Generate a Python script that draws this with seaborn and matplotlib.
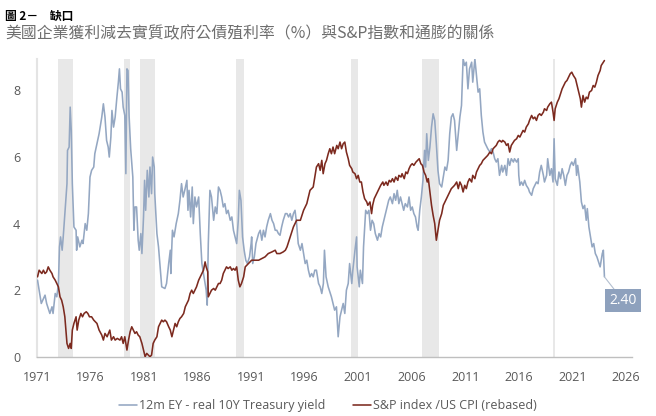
import matplotlib
matplotlib.use("Agg")
import matplotlib.pyplot as plt
import seaborn as sns
import pandas as pd

# ---------------- data ----------------
ey_years = [1971.05, 1971.4, 1971.75, 1971.9, 1972.2, 1972.4, 1972.5, 1972.7, 1972.85, 1973.0, 1973.1, 1973.2,
            1973.35, 1973.45, 1973.6, 1973.8, 1973.85, 1974.0, 1974.1, 1974.2, 1974.3, 1974.45, 1974.65, 1974.7,
            1974.8, 1975.0, 1975.2, 1975.3, 1975.5, 1975.65, 1975.8, 1975.95, 1976.1, 1976.3, 1976.4, 1976.6,
            1976.8, 1977.05, 1977.2, 1977.35, 1977.5, 1977.65, 1977.75, 1977.9, 1978.0, 1978.15, 1978.3, 1978.45,
            1978.6, 1978.7, 1978.8, 1978.95, 1979.05, 1979.2, 1979.3, 1979.4, 1979.5, 1979.6, 1979.75, 1979.95,
            1980.05, 1980.15, 1980.3, 1980.45, 1980.55, 1980.7, 1980.8, 1980.95, 1981.05, 1981.15, 1981.3, 1981.45,
            1981.55, 1981.7, 1981.8, 1981.95, 1982.0, 1982.2, 1982.35, 1982.5, 1982.65, 1982.95, 1983.1, 1983.3,
            1983.45, 1983.5, 1983.65, 1983.8, 1984.0, 1984.2, 1984.35, 1984.5, 1984.65, 1984.8, 1985.0, 1985.1,
            1985.2, 1985.35, 1985.5, 1985.6, 1985.75, 1985.9, 1986.1, 1986.25, 1986.4, 1986.6, 1986.8, 1986.9,
            1987.0, 1987.15, 1987.3, 1987.5, 1987.65, 1987.8, 1987.95, 1988.1, 1988.25, 1988.4, 1988.55, 1988.7,
            1988.85, 1989.05, 1989.2, 1989.35, 1989.5, 1989.65, 1989.8, 1989.9, 1990.05, 1990.2, 1990.35, 1990.5,
            1990.65, 1990.85, 1991.0, 1991.05, 1991.15, 1991.3, 1991.45, 1991.7, 1991.85, 1992.0, 1992.15, 1992.3,
            1992.45, 1992.6, 1992.8, 1992.95, 1993.1, 1993.25, 1993.4, 1993.55, 1993.7, 1993.85, 1994.0, 1994.2,
            1994.35, 1994.5, 1994.65, 1994.8, 1994.95, 1995.1, 1995.25, 1995.4, 1995.6, 1995.75, 1995.9, 1996.05,
            1996.2, 1996.35, 1996.5, 1996.65, 1996.8, 1996.95, 1997.1, 1997.3, 1997.45, 1997.6, 1997.75, 1997.85,
            1998.0, 1998.2, 1998.5, 1998.8, 1998.97, 1999.13, 1999.3, 1999.45, 1999.6, 1999.75, 1999.9, 2000.07,
            2000.2, 2000.4, 2000.5, 2000.7, 2000.85, 2000.9, 2001.1, 2001.2, 2001.4, 2001.5, 2001.7, 2001.85,
            2002.0, 2002.15, 2002.3, 2002.45, 2002.6, 2002.8, 2002.95, 2003.1, 2003.25, 2003.4, 2003.55, 2003.7,
            2003.85, 2004.0, 2004.2, 2004.35, 2004.5, 2004.65, 2004.8, 2004.95, 2005.1, 2005.25, 2005.4, 2005.6,
            2005.75, 2005.9, 2006.05, 2006.2, 2006.35, 2006.5, 2006.6, 2006.75, 2006.9, 2007.05, 2007.2, 2007.3,
            2007.4, 2007.55, 2007.7, 2007.85, 2008.0, 2008.15, 2008.3, 2008.45, 2008.6, 2008.8, 2008.95, 2009.1,
            2009.25, 2009.4, 2009.55, 2009.7, 2009.85, 2010.0, 2010.2, 2010.35, 2010.5, 2010.65, 2010.8, 2010.95,
            2011.1, 2011.25, 2011.4, 2011.6, 2011.7, 2011.9, 2012.05, 2012.2, 2012.35, 2012.5, 2012.65, 2012.8,
            2012.95, 2013.1, 2013.3, 2013.45, 2013.6, 2013.75, 2013.9, 2014.05, 2014.2, 2014.4, 2014.5, 2014.7,
            2014.85, 2015.0, 2015.15, 2015.3, 2015.5, 2015.6, 2015.8, 2015.95, 2016.0, 2016.1, 2016.25, 2016.4,
            2016.55, 2016.7, 2016.9, 2017.0, 2017.2, 2017.35, 2017.5, 2017.65, 2017.8, 2017.95, 2018.1, 2018.3,
            2018.4, 2018.6, 2018.7, 2018.9, 2019.05, 2019.2, 2019.3, 2019.4, 2019.6, 2019.75, 2019.9, 2020.05,
            2020.2, 2020.35, 2020.5, 2020.65, 2020.8, 2020.95, 2021.1, 2021.3, 2021.4, 2021.5, 2021.7, 2021.85,
            2022.0, 2022.15, 2022.3, 2022.4, 2022.55, 2022.7, 2022.85, 2023.0, 2023.15, 2023.3, 2023.5, 2023.6,
            2023.8, 2023.9, 2024.0]
ey_values = [2.3, 1.6, 1.85, 1.6, 1.3, 1.5, 1.3, 1.9, 1.8, 2.2, 3.3, 3.6,
             3.2, 3.6, 4.3, 5.2, 6.2, 6.3, 7.5, 6.8, 5.2, 3.9, 3.8, 3.2,
             3.6, 3.3, 3.5, 3.4, 4.0, 3.8, 4.3, 5.4, 5.6, 5.7, 6.1, 6.4,
             6.7, 7.2, 7.6, 7.2, 6.5, 6.3, 6.0, 6.6, 7.4, 6.9, 7.2, 7.75,
             8.25, 8.65, 8.05, 7.95, 7.5, 7.25, 5.5, 8.65, 8.6, 7.25, 6.25, 5.4,
             3.8, 4.5, 4.5, 3.5, 3.2, 3.7, 3.1, 4.2, 5.3, 4.4, 5.6, 4.8,
             5.7, 4.9, 6.0, 5.7, 4.9, 3.7, 3.3, 2.7, 2.1, 2.05, 2.2, 2.8,
             3.2, 2.5, 3.8, 3.6, 4.0, 4.3, 4.7, 5.2, 4.8, 5.0, 5.3, 4.4,
             5.0, 4.2, 5.1, 4.0, 4.8, 4.5, 4.8, 3.7, 2.8, 2.4, 2.0, 1.55,
             3.4, 5.0, 4.8, 4.1, 4.5, 4.3, 5.1, 5.0, 4.8, 4.5, 4.6, 4.3,
             4.4, 4.1, 4.2, 3.8, 3.6, 3.4, 4.1, 5.0, 4.7, 3.6, 3.2, 2.9,
             2.8, 3.0, 3.4, 3.6, 2.8, 3.0, 3.4, 3.7, 3.8, 3.5, 3.8, 3.6,
             3.9, 4.1, 4.3, 4.1, 4.0, 3.8, 3.8, 3.7, 3.65, 3.9, 4.1, 4.3,
             4.3, 4.2, 4.3, 4.1, 4.3, 4.4, 4.0, 3.4, 3.2, 3.4, 3.1, 2.8,
             2.9, 2.6, 2.4, 2.5, 2.4, 2.6, 2.6, 2.2, 2.1, 1.9, 2.2, 3.2,
             2.4, 2.1, 1.8, 1.4, 1.5, 0.6, 1.2, 1.4, 1.6, 1.3, 2.0, 2.2,
             2.8, 2.2, 2.6, 3.2, 3.6, 2.7, 2.1, 2.6, 2.2, 3.3, 4.4, 4.3,
             4.4, 3.8, 4.1, 4.0, 3.7, 3.5, 3.7, 3.6, 3.9, 4.1, 4.3, 4.5,
             4.7, 4.8, 4.6, 4.9, 4.7, 5.0, 4.6, 4.8, 4.6, 4.4, 4.6, 4.5,
             4.8, 4.4, 4.5, 4.3, 4.2, 3.9, 3.8, 4.4, 4.8, 5.3, 6.2, 5.7,
             6.7, 5.9, 6.3, 6.9, 7.3, 7.1, 6.4, 5.6, 5.2, 5.1, 5.4, 5.7,
             5.6, 5.9, 6.7, 7.2, 7.3, 7.1, 6.2, 6.7, 7.2, 7.55, 8.95, 8.75,
             8.85, 8.05, 8.65, 8.85, 8.25, 8.95, 8.45, 7.95, 8.05, 7.25, 6.75, 6.45,
             6.35, 6.25, 6.15, 6.25, 6.15, 5.95, 5.85, 5.95, 5.45, 5.75, 5.55, 5.75,
             5.45, 5.95, 5.75, 5.95, 5.85, 5.95, 5.85, 5.95, 5.45, 5.15, 5.25, 5.15,
             5.3, 5.15, 5.05, 4.95, 4.85, 5.05, 5.15, 5.25, 5.2, 5.55, 5.75, 5.45,
             5.25, 5.45, 5.95, 5.45, 5.65, 5.25, 6.55, 5.35, 5.15, 5.55, 5.35, 5.65,
             5.45, 5.15, 5.45, 5.55, 5.75, 5.85, 5.75, 5.95, 5.45, 5.75, 5.25, 4.65,
             4.45, 4.55, 4.1, 4.45, 3.9, 3.6, 3.3, 3.4, 3.1, 3.0, 2.8, 2.7,
             3.1, 3.2, 2.4]

sp_years = [1971.05, 1971.2, 1971.45, 1971.6, 1971.75, 1971.9, 1972.05, 1972.2, 1972.4, 1972.5, 1972.7, 1972.85,
            1973.0, 1973.15, 1973.3, 1973.45, 1973.6, 1973.8, 1973.95, 1974.1, 1974.2, 1974.3, 1974.45, 1974.65,
            1974.75, 1974.9, 1975.1, 1975.25, 1975.4, 1975.6, 1975.75, 1975.9, 1976.1, 1976.3, 1976.6, 1976.8,
            1977.05, 1977.2, 1977.35, 1977.55, 1977.8, 1977.95, 1978.15, 1978.3, 1978.5, 1978.75, 1978.9, 1979.05,
            1979.2, 1979.4, 1979.55, 1979.7, 1979.85, 1980.0, 1980.15, 1980.3, 1980.45, 1980.6, 1980.8, 1980.95,
            1981.1, 1981.25, 1981.55, 1981.7, 1981.85, 1982.0, 1982.2, 1982.35, 1982.5, 1982.65, 1982.8, 1982.95,
            1983.1, 1983.3, 1983.45, 1983.6, 1983.75, 1983.9, 1984.05, 1984.2, 1984.35, 1984.5, 1984.7, 1984.85,
            1985.0, 1985.15, 1985.3, 1985.45, 1985.6, 1985.75, 1985.9, 1986.1, 1986.25, 1986.4, 1986.55, 1986.7,
            1986.8, 1986.95, 1987.0, 1987.15, 1987.3, 1987.5, 1987.65, 1987.8, 1987.95, 1988.1, 1988.25, 1988.4,
            1988.55, 1988.7, 1988.85, 1989.05, 1989.2, 1989.35, 1989.5, 1989.65, 1989.8, 1989.95, 1990.1, 1990.3,
            1990.45, 1990.75, 1991.05, 1991.35, 1991.7, 1992.0, 1992.3, 1992.6, 1992.95, 1993.25, 1993.4, 1993.7,
            1994.0, 1994.2, 1994.35, 1994.65, 1994.95, 1995.25, 1995.6, 1995.9, 1996.2, 1996.35, 1996.5, 1996.8,
            1996.95, 1997.1, 1997.3, 1997.45, 1997.6, 1997.73, 1997.9, 1998.04, 1998.2, 1998.35, 1998.5, 1998.65,
            1998.8, 1999.0, 1999.13, 1999.3, 1999.45, 1999.6, 1999.75, 1999.9, 2000.07, 2000.2, 2000.4, 2000.5,
            2000.7, 2000.85, 2001.0, 2001.15, 2001.3, 2001.45, 2001.6, 2001.8, 2001.9, 2002.1, 2002.25, 2002.35,
            2002.5, 2002.65, 2002.8, 2002.95, 2003.1, 2003.3, 2003.4, 2003.6, 2003.75, 2003.9, 2004.05, 2004.2,
            2004.35, 2004.5, 2004.7, 2004.8, 2005.0, 2005.1, 2005.3, 2005.45, 2005.6, 2005.75, 2005.9, 2006.05,
            2006.2, 2006.4, 2006.55, 2006.7, 2006.85, 2007.0, 2007.15, 2007.3, 2007.45, 2007.55, 2007.7, 2007.85,
            2008.0, 2008.15, 2008.3, 2008.45, 2008.6, 2008.8, 2008.95, 2009.1, 2009.25, 2009.4, 2009.55, 2009.7,
            2009.85, 2010.0, 2010.2, 2010.35, 2010.5, 2010.65, 2010.8, 2010.95, 2011.1, 2011.25, 2011.4, 2011.6,
            2011.7, 2011.9, 2012.05, 2012.2, 2012.35, 2012.5, 2012.65, 2012.8, 2012.95, 2013.1, 2013.3, 2013.45,
            2013.6, 2013.75, 2013.9, 2014.05, 2014.2, 2014.4, 2014.5, 2014.7, 2014.85, 2015.0, 2015.15, 2015.3,
            2015.5, 2015.6, 2015.8, 2015.95, 2016.1, 2016.25, 2016.4, 2016.55, 2016.7, 2016.9, 2017.0, 2017.2,
            2017.35, 2017.5, 2017.65, 2017.8, 2017.95, 2018.1, 2018.3, 2018.4, 2018.6, 2018.7, 2018.9, 2019.05,
            2019.2, 2019.3, 2019.4, 2019.6, 2019.75, 2019.9, 2020.05, 2020.2, 2020.35, 2020.5, 2020.65, 2020.8,
            2020.95, 2021.1, 2021.3, 2021.45, 2021.6, 2021.75, 2021.85, 2022.0, 2022.15, 2022.3, 2022.45, 2022.6,
            2022.8, 2022.95, 2023.1, 2023.25, 2023.4, 2023.6, 2023.7, 2023.9, 2024.0]
sp_values = [2.4, 2.6, 2.5, 2.6, 2.5, 2.55, 2.7, 2.6, 2.5, 2.4, 2.3, 2.2,
             2.1, 1.8, 1.7, 1.5, 1.2, 0.4, 0.25, 0.4, 0.25, 0.8, 1.0, 1.2,
             0.8, 1.1, 1.3, 1.2, 1.3, 1.35, 1.3, 1.2, 1.2, 1.1, 1.0, 0.8,
             0.65, 0.5, 0.7, 0.6, 0.8, 0.5, 0.6, 0.5, 0.55, 0.5, 0.6, 0.4,
             0.6, 0.2, 0.5, 0.75, 0.9, 0.8, 0.7, 0.75, 0.65, 0.6, 0.4, 0.2,
             0.0, 0.1, 0.0, 0.05, 0.4, 0.5, 0.6, 0.9, 1.0, 1.1, 1.05, 1.1,
             1.05, 0.9, 0.8, 0.6, 0.8, 1.0, 0.9, 1.05, 1.15, 1.2, 1.3, 1.5,
             1.6, 1.7, 1.9, 2.0, 1.9, 2.0, 2.1, 2.3, 2.4, 2.5, 2.6, 2.85,
             2.7, 2.55, 1.8, 1.9, 2.0, 2.05, 2.0, 2.1, 2.2, 2.2, 2.3, 2.5,
             2.6, 2.7, 2.65, 2.7, 2.6, 2.65, 2.6, 2.7, 2.3, 2.1, 2.2, 2.4,
             2.7, 2.8, 2.9, 2.9, 2.9, 2.95, 3.0, 3.1, 3.15, 3.2, 3.1, 3.1,
             3.15, 3.2, 3.3, 3.6, 3.9, 4.1, 4.1, 4.4, 4.6, 4.8, 5.0, 5.1,
             5.4, 5.7, 5.8, 5.6, 5.9, 5.5, 5.8, 5.9, 6.1, 6.25, 6.1, 6.3,
             6.1, 6.35, 6.25, 6.45, 6.25, 6.4, 6.45, 6.15, 5.95, 5.75, 5.65, 5.55,
             5.5, 5.35, 5.45, 5.25, 5.25, 4.95, 4.75, 4.65, 4.55, 4.65, 4.3, 4.55,
             4.75, 4.85, 4.95, 5.05, 5.15, 5.25, 5.15, 5.25, 5.15, 5.3, 5.25, 5.35,
             5.25, 5.4, 5.3, 5.45, 5.4, 5.5, 5.35, 5.55, 5.5, 5.65, 5.75, 5.8,
             5.75, 5.85, 5.9, 5.95, 5.8, 5.75, 5.55, 5.45, 5.25, 5.35, 4.95, 4.55,
             4.25, 4.0, 3.5, 3.8, 4.1, 4.3, 4.55, 4.65, 4.75, 4.85, 4.95, 5.05,
             5.1, 5.15, 5.25, 5.05, 5.25, 5.15, 4.95, 5.15, 5.05, 5.25, 5.35, 5.25,
             5.45, 5.35, 5.55, 5.65, 5.75, 5.8, 5.9, 5.95, 6.0, 6.05, 6.15, 6.1,
             6.25, 6.3, 6.35, 6.45, 6.5, 6.45, 6.5, 6.45, 6.35, 6.4, 6.15, 6.35,
             6.45, 6.5, 6.55, 6.65, 6.6, 6.7, 6.8, 6.75, 6.9, 7.0, 7.1, 7.25,
             7.15, 7.2, 7.1, 7.25, 7.3, 7.25, 7.35, 7.45, 7.4, 7.5, 7.6, 7.65,
             7.35, 7.1, 7.45, 7.65, 7.75, 7.9, 8.05, 8.15, 8.25, 8.3, 8.4, 8.5,
             8.55, 8.45, 8.35, 8.15, 7.95, 7.75, 7.5, 7.85, 7.65, 7.8, 7.75, 7.95,
             8.0, 8.15, 8.1, 8.25, 8.45, 8.6, 8.75, 8.85, 8.9]

recession_start = [1973.0, 1979.1, 1980.6, 1989.6, 2000.3, 2007.0, 2019.2]
recession_end = [1974.33, 1979.7, 1982.0, 1990.35, 2001.0, 2008.55, 2019.4]

x_ticks = [1971, 1976, 1981, 1986, 1991, 1996, 2001, 2006, 2011, 2016, 2021, 2026]
y_ticks = [0, 2, 4, 6, 8]

ey_label = "12m EY - real 10Y Treasury yield"
sp_label = "S&P index /US CPI (rebased)"
last_value_text = "2.40"
title_1 = "圖 2－　缺口"
title_2 = "美國企業獲利減去實質政府公債殖利率（%）與S&P指數和通膨的關係"

# ---------------- style ----------------
sns.set_theme(style="white")
plt.rcParams["font.family"] = ["Open Sans", "Noto Sans CJK TC", "DejaVu Sans"]

BLUE = "#94a7c2"
RED = "#7c2a1f"
GREY_TXT = "#595959"

fig = plt.figure(figsize=(6.56, 4.16), dpi=100)
ax = fig.add_axes([0.0564, 0.1425, 0.9066, 0.716])

for s, e in zip(recession_start, recession_end):
    ax.axvspan(s, e, color="#e8e8e8", lw=0, zorder=0)

df_ey = pd.DataFrame({"year": ey_years, "value": ey_values})
df_sp = pd.DataFrame({"year": sp_years, "value": sp_values})
sns.lineplot(data=df_ey, x="year", y="value", ax=ax, color=BLUE, lw=1.15, sort=False, label=ey_label, zorder=3)
sns.lineplot(data=df_sp, x="year", y="value", ax=ax, color=RED, lw=1.15, sort=False, label=sp_label, zorder=4)

ax.set_xlim(1971, 2026.55)
ax.set_ylim(0, 8.95)
ax.set_xticks(x_ticks)
ax.set_xticklabels([str(t) for t in x_ticks])
ax.set_yticks(y_ticks)
ax.set_xlabel("")
ax.set_ylabel("")
ax.tick_params(axis="both", length=0, labelsize=9, colors=GREY_TXT)
ax.tick_params(axis="x", pad=10)
ax.tick_params(axis="y", pad=12)
for side in ["top", "right"]:
    ax.spines[side].set_visible(False)
ax.spines["bottom"].set_color("#bfbfbf")
ax.spines["bottom"].set_linewidth(1.0)
ax.spines["left"].set_color("#e4e4e4")
ax.spines["left"].set_linewidth(1.5)

# last value label
ax.annotate(last_value_text, xy=(ey_years[-1], ey_values[-1]), xytext=(2025.75, 1.68),
            ha="center", va="center", fontsize=10, color="white",
            bbox=dict(boxstyle="square,pad=0.3", fc="#8ea1bd", ec="none"),
            arrowprops=dict(arrowstyle="-", color="#b3bfcf", lw=0.8, shrinkA=0, shrinkB=0),
            zorder=6)

handles, labels = ax.get_legend_handles_labels()
ax.get_legend().remove()
fig.legend(handles, labels, loc="lower center", bbox_to_anchor=(0.5, -0.018), ncol=2, frameon=False,
           fontsize=9, handlelength=1.4, handletextpad=0.2, columnspacing=2.2, labelcolor=GREY_TXT)

fig.text(0.008, 0.975, title_1, fontsize=8.5, fontweight="bold", color="black", va="top", ha="left",
         family=["Noto Sans CJK TC", "DejaVu Sans"])
fig.text(0.008, 0.94, title_2, fontsize=11.4, color="#6e6e6e", va="top", ha="left",
         family=["Noto Sans CJK TC", "DejaVu Sans"])

fig.savefig("out.png", dpi=100)
